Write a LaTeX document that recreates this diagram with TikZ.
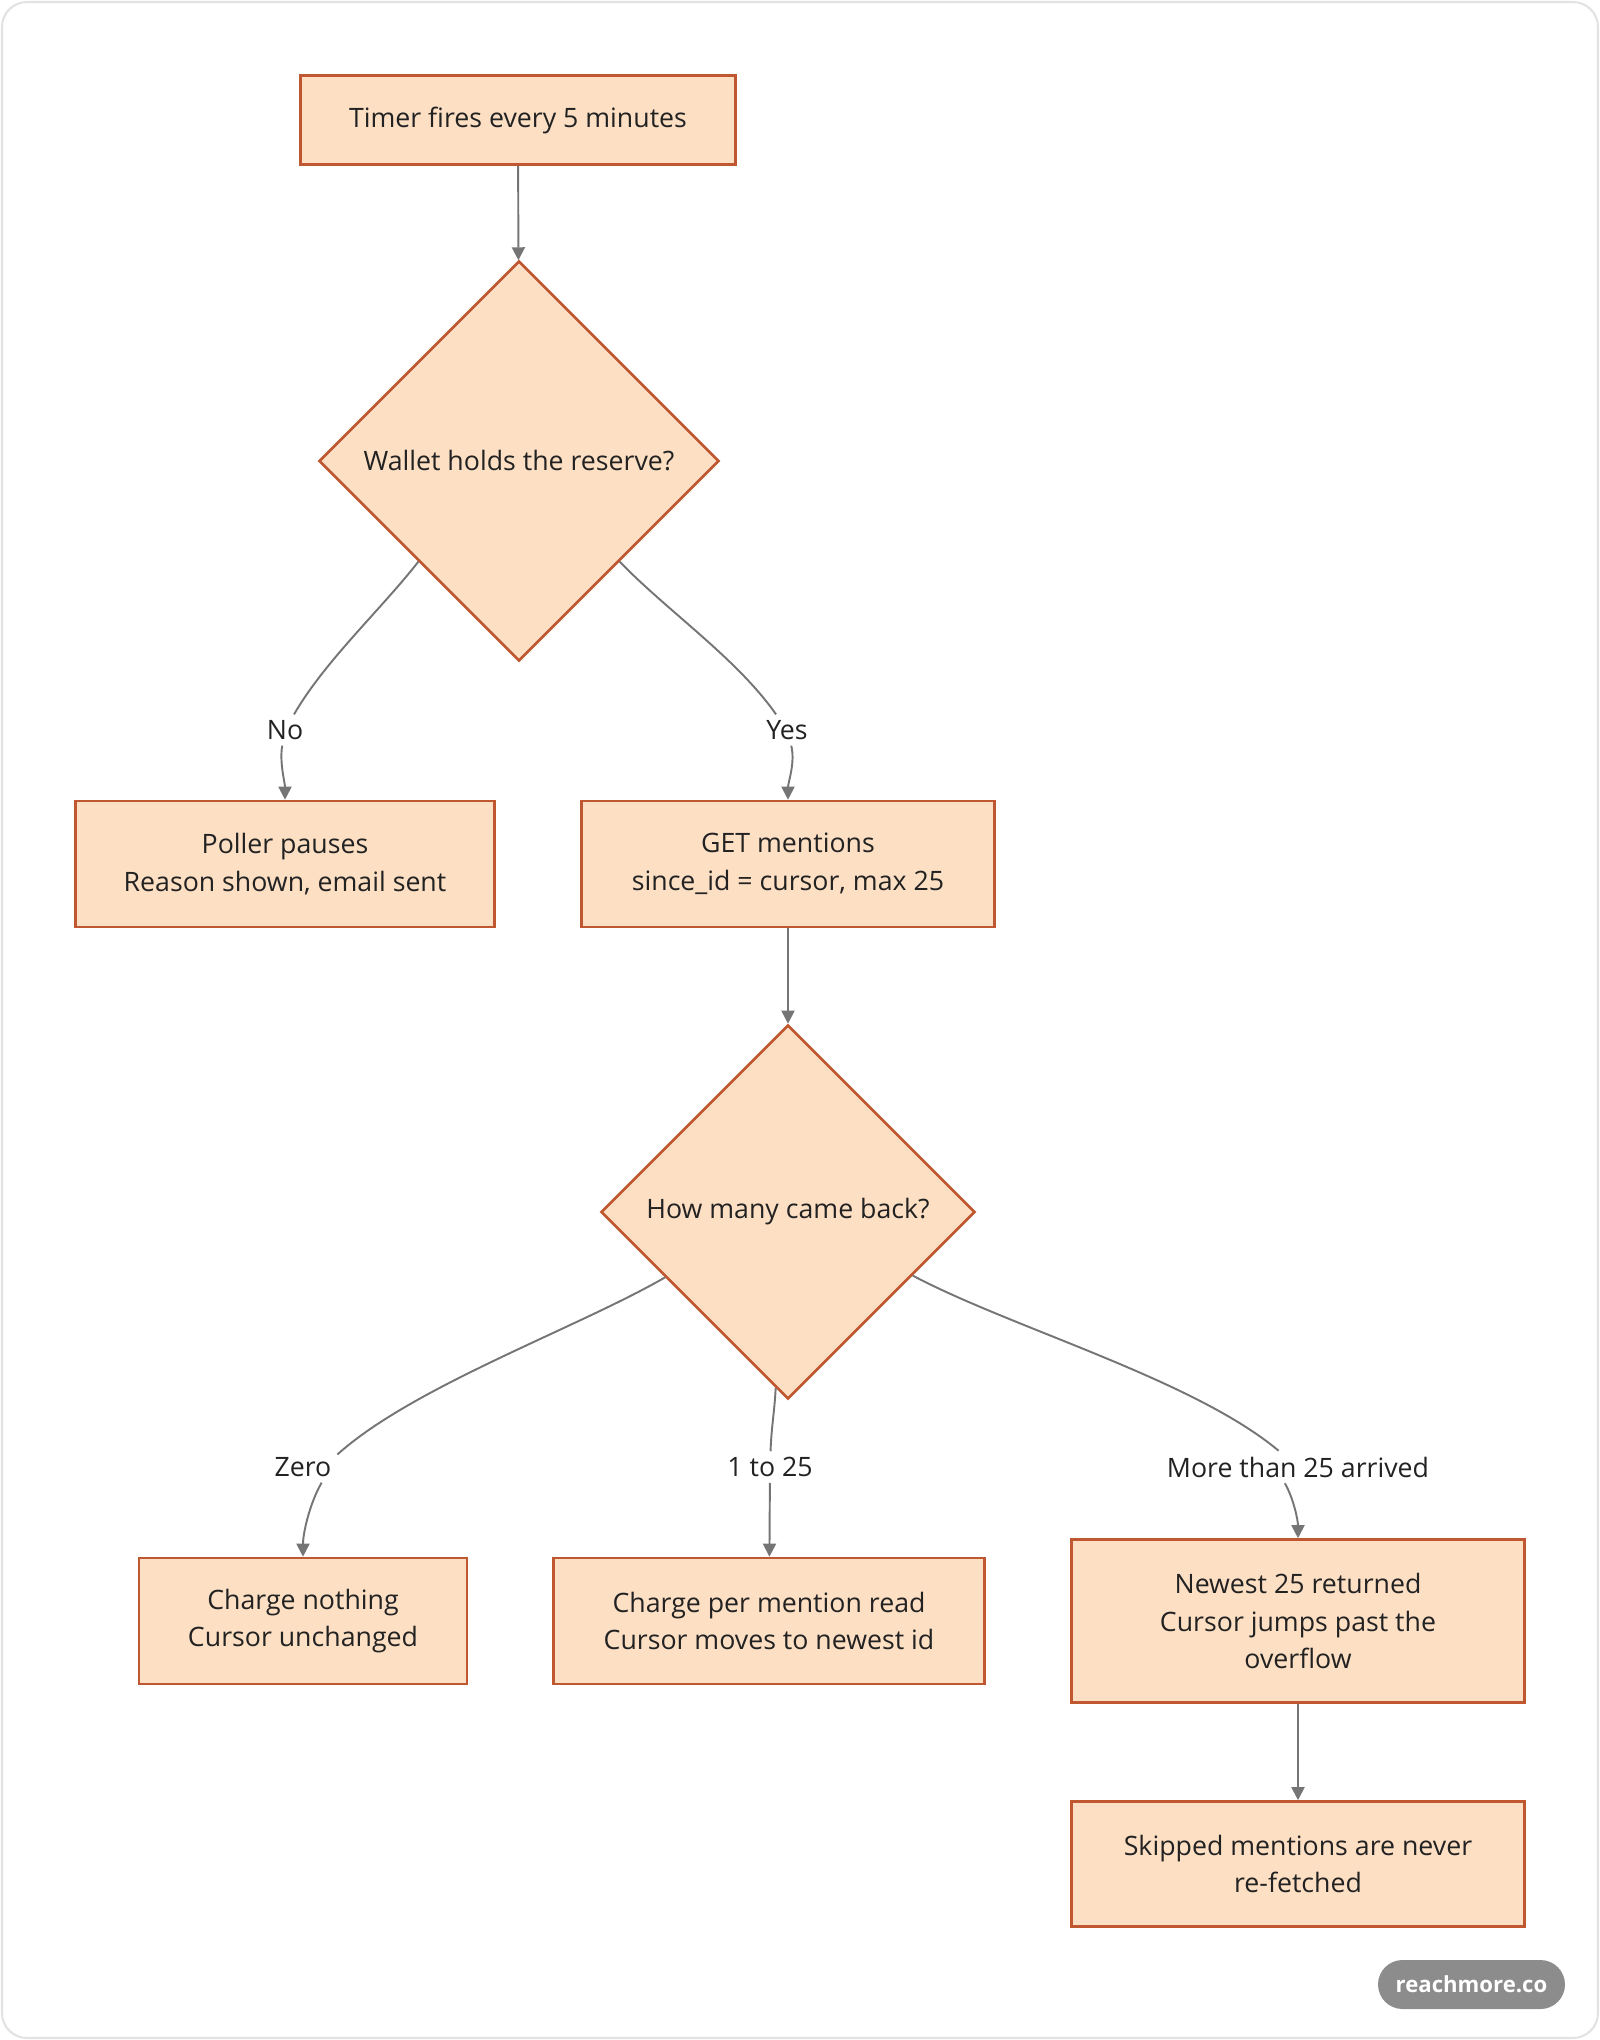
\documentclass[tikz,border=0pt]{standalone}
\usepackage{fontspec}
\setmainfont{Open Sans}
\usetikzlibrary{shapes.geometric,arrows.meta}
\definecolor{boxfill}{HTML}{FDDFC4}
\definecolor{boxline}{HTML}{BF5731}
\definecolor{edgegray}{HTML}{757575}
\definecolor{inkdark}{HTML}{222222}
\definecolor{framegray}{HTML}{E2E2E2}
\definecolor{pillgray}{HTML}{8C8C8C}

\begin{document}
\begin{tikzpicture}
[box/.style={shape=rectangle,draw=boxline,fill=boxfill,line width=0.75pt,
   align=center,text=inkdark,inner sep=0pt,minimum height=1.26cm},%
  choice/.style={shape=diamond,draw=boxline,fill=boxfill,line width=0.75pt,
   aspect=1,text=inkdark,inner sep=0pt},%
  lbl/.style={text=inkdark,inner sep=1.5pt},%
  edge/.style={draw=edgegray,line width=0.55pt},%
  arr/.style={edge,-{Triangle[length=1.3mm,width=1.3mm]}}]
\fontsize{7.6}{10.7}\selectfont
\useasboundingbox (0,0) rectangle (16,-20.4);
\draw[framegray,line width=0.6pt,rounded corners=0.25cm] (0.02,-0.02) rectangle (15.98,-20.38);

\node[box,minimum width=4.35cm,minimum height=0.89cm] (timer) at (5.18,-1.20) {Timer fires every 5 minutes};
\node[choice,minimum width=4cm,minimum height=4cm] (wallet) at (5.19,-4.61) {Wallet holds the reserve?};
\node[box,minimum width=4.19cm] (poll) at (2.85,-8.64) {Poller pauses\\Reason shown, email sent};
\node[box,minimum width=4.13cm] (getm) at (7.88,-8.64) {GET mentions\\since\_id = cursor, max 25};
\node[choice,minimum width=3.74cm,minimum height=3.74cm] (howmany) at (7.88,-12.12) {How many came back?};
\node[box,minimum width=3.28cm] (charge0) at (3.03,-16.21) {Charge nothing\\Cursor unchanged};
\node[box,minimum width=4.31cm] (chargeN) at (7.69,-16.21) {Charge per mention read\\Cursor moves to newest id};
\node[box,minimum width=4.53cm,minimum height=1.63cm] (newest) at (12.98,-16.21) {Newest 25 returned\\Cursor jumps past the\\overflow};
\node[box,minimum width=4.53cm,minimum height=1.25cm] (skipped) at (12.98,-18.64) {Skipped mentions are never\\re-fetched};

\node[lbl] (no) at (2.85,-7.30) {No};
\node[lbl] (yes) at (7.87,-7.30) {Yes};
\node[lbl] (zero) at (3.03,-14.67) {Zero};
\node[lbl] (one) at (7.70,-14.67) {1 to 25};
\node[lbl] (more) at (12.98,-14.67) {More than 25 arrived};

\draw[arr] (timer) -- (wallet);
\draw[edge] (wallet.south west) to[out=-128,in=60,looseness=0.8] (no);
\draw[arr] (no) to[out=-100,in=90,looseness=0.8] (poll);
\draw[edge] (wallet.south east) to[out=-46,in=125,looseness=0.8] (yes);
\draw[arr] (yes) to[out=-75,in=90,looseness=0.8] (getm);
\draw[arr] (getm) -- (howmany);
\draw[edge] (howmany.208) to[out=-150,in=42,looseness=0.7] (zero.20);
\draw[arr] (zero.-40) to[out=-120,in=90,looseness=0.8] (charge0);
\draw[edge] (howmany.-94) to[out=-93,in=88] (one);
\draw[arr] (one) -- (chargeN);
\draw[edge] (howmany.-27) to[out=-28,in=140,looseness=0.7] (more);
\draw[arr] (more.-129) to[out=-60,in=90,looseness=0.8] (newest);
\draw[arr] (newest) -- (skipped);

\node[shape=rectangle,fill=pillgray,rounded corners=0.245cm,minimum width=1.87cm,
  minimum height=0.49cm,inner sep=0pt,text=white] (brand) at (14.715,-19.845)
  {\fontsize{6.3}{8}\selectfont\bfseries reachmore.co};
\end{tikzpicture}
\end{document}
